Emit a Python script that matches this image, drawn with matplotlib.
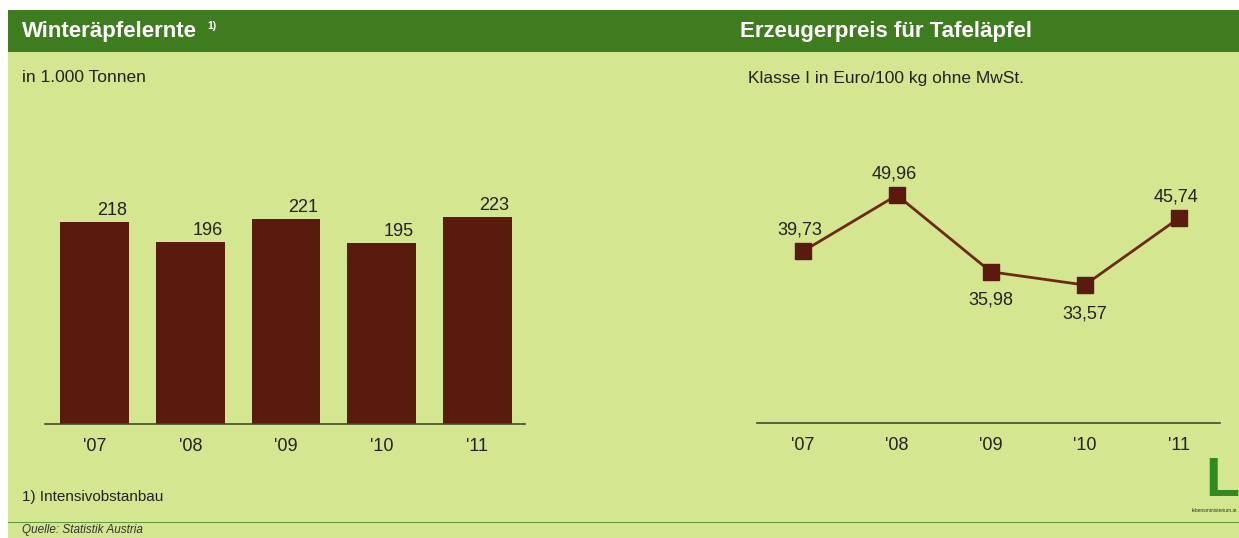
import matplotlib.pyplot as plt
from matplotlib.patches import Rectangle

plt.rcParams['font.family'] = ['Liberation Sans', 'DejaVu Sans']

# Data
years = ["'07", "'08", "'09", "'10", "'11"]
harvest = [218, 196, 221, 195, 223]          # in 1.000 Tonnen
price = [39.73, 49.96, 35.98, 33.57, 45.74]  # Euro/100 kg
price_pos = ['above', 'above', 'below', 'below', 'above']

W, H = 1239, 538
bg = '#d4e690'
header = '#3f7b1f'
brown = '#5a1a0e'
axis_col = '#3e4a2c'


def rect(l, t, r, b):
    return [l / W, 1 - b / H, (r - l) / W, (b - t) / H]


fig = plt.figure(figsize=(W / 100, H / 100), dpi=100)
fig.patch.set_facecolor('white')

# panel background and header band
fig.patches.append(Rectangle((8 / W, 0), 1 - 8 / W, 1 - 10 / H, transform=fig.transFigure,
                             facecolor=bg, edgecolor='none', zorder=-2))
fig.patches.append(Rectangle((8 / W, 1 - 52 / H), 1 - 8 / W, 42 / H, transform=fig.transFigure,
                             facecolor=header, edgecolor='none', zorder=-1))
fig.patches.append(Rectangle((8 / W, 1 - 523 / H), 1 - 8 / W, 1.5 / H, transform=fig.transFigure,
                             facecolor='#5e9a3c', edgecolor='none', zorder=-1))

fig.text(22 / W, 1 - 31 / H, 'Winteräpfelernte', color='white', fontsize=16, fontweight='bold', va='center')
fig.text(207 / W, 1 - 26 / H, '1)', color='white', fontsize=7.5, fontweight='bold', va='center')
fig.text(740 / W, 1 - 31 / H, 'Erzeugerpreis für Tafeläpfel', color='white', fontsize=16,
         fontweight='bold', va='center')

fig.text(22 / W, 1 - 78 / H, 'in 1.000 Tonnen', color='#222', fontsize=12.5, va='center')
fig.text(748 / W, 1 - 78 / H, 'Klasse I in Euro/100 kg ohne MwSt.', color='#222', fontsize=12.5, va='center')
fig.text(22 / W, 1 - 497 / H, '1) Intensivobstanbau', color='#222', fontsize=11, va='center')
fig.text(22 / W, 1 - 530 / H, 'Quelle: Statistik Austria', color='#333', fontsize=8.5, style='italic', va='center')

# logo
fig.text(1239 / W, 1 - 482 / H, 'L', color='#2f8a22', fontsize=40, fontweight='bold', ha='right', va='center')
fig.text(1237 / W, 1 - 510 / H, 'lebensministerium.at', color='#333', fontsize=3.5, ha='right', va='center')

# bar chart
ax1 = fig.add_axes(rect(45, 160, 525, 424))
ax1.set_facecolor('none')
x = range(len(years))
ax1.bar(x, harvest, width=0.72, color=brown, zorder=2)
for i, v in enumerate(harvest):
    ax1.annotate(str(v), (i, v), xytext=(17, 7), textcoords='offset pixels',
                 ha='center', va='baseline', fontsize=13, color='#222')
ax1.set_xlim(-0.52, 4.5)
ax1.set_ylim(0, 285)
ax1.set_xticks(list(x))
ax1.set_xticklabels(years, fontsize=13, color='#222')
ax1.set_yticks([])
ax1.tick_params(axis='x', length=0, pad=10)
for s in ['top', 'left', 'right']:
    ax1.spines[s].set_visible(False)
ax1.spines['bottom'].set_color(axis_col)
ax1.spines['bottom'].set_linewidth(1.2)

# line chart
ax2 = fig.add_axes(rect(757, 150, 1220, 423))
ax2.set_facecolor('none')
ax2.plot(list(x), price, color='#6a2a14', linewidth=2, marker='s', markersize=12,
         markerfacecolor=brown, markeredgecolor=brown, zorder=3)
for i, (v, pos) in enumerate(zip(price, price_pos)):
    label = f'{v:.2f}'.replace('.', ',')
    if pos == 'above':
        ax2.annotate(label, (i, v), xytext=(-3, 17), textcoords='offset pixels',
                     ha='center', va='baseline', fontsize=13, color='#222')
    else:
        ax2.annotate(label, (i, v), xytext=(0, -20), textcoords='offset pixels',
                     ha='center', va='top', fontsize=13, color='#222')
ax2.set_xlim(-0.49, 4.44)
ax2.set_ylim(8.4, 58.2)
ax2.set_xticks(list(x))
ax2.set_xticklabels(years, fontsize=13, color='#222')
ax2.set_yticks([])
ax2.tick_params(axis='x', length=0, pad=10)
for s in ['top', 'left', 'right']:
    ax2.spines[s].set_visible(False)
ax2.spines['bottom'].set_color(axis_col)
ax2.spines['bottom'].set_linewidth(1.2)

fig.savefig('out.png', dpi=100)
